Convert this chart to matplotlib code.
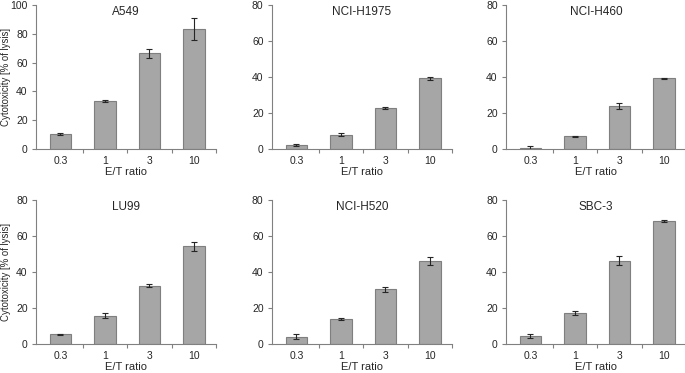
import matplotlib.pyplot as plt
import numpy as np

plt.rcParams['font.family'] = ['Liberation Sans', 'DejaVu Sans']

ratios = ['0.3', '1', '3', '10']
cell_lines = ['A549', 'NCI-H1975', 'NCI-H460', 'LU99', 'NCI-H520', 'SBC-3']

a549 = [10.2, 33.3, 66.5, 83.3]
a549_err = [0.7, 0.5, 3.3, 7.6]
h1975 = [2.2, 8.0, 22.8, 39.3]
h1975_err = [0.6, 1.0, 0.5, 0.9]
h460 = [0.5, 7.0, 23.8, 39.4]
h460_err = [0.9, 0.5, 1.8, 0.3]
lu99 = [5.4, 15.8, 32.5, 54.2]
lu99_err = [0.4, 1.4, 1.0, 2.3]
h520 = [4.1, 13.7, 30.4, 46.1]
h520_err = [1.4, 0.5, 1.4, 2.0]
sbc3 = [4.6, 17.3, 46.4, 68.3]
sbc3_err = [1.0, 1.0, 2.4, 0.4]

values = [a549, h1975, h460, lu99, h520, sbc3]
errors = [a549_err, h1975_err, h460_err, lu99_err, h520_err, sbc3_err]
ymax = [100, 80, 80, 80, 80, 80]

fig = plt.figure(figsize=(6.85, 3.73), dpi=100)
lefts = [0.0526, 0.397, 0.7387]
bottoms = [0.6005, 0.0777]
w, h = 0.263, 0.386

txt = '#262626'
line = '#808080'

for i in range(6):
    r, c = divmod(i, 3)
    ax = fig.add_axes([lefts[c], bottoms[r], w, h])
    x = np.arange(len(ratios))
    ax.bar(x, values[i], width=0.48, color='#a6a6a6', edgecolor='#7f7f7f', linewidth=0.8)
    ax.errorbar(x, values[i], yerr=errors[i], fmt='none', ecolor='#262626',
                elinewidth=0.8, capsize=2, capthick=0.8)
    ax.set_xlim(-0.55, 3.5)
    ax.set_ylim(0, ymax[i])
    ax.set_yticks(np.arange(0, ymax[i] + 1, 20))
    ax.set_xticks(x)
    ax.set_xticklabels(ratios)
    ax.set_xticks([0.5, 1.5, 2.5, 3.5], minor=True)
    ax.tick_params(axis='x', which='major', length=0, labelsize=7.5, colors=txt, pad=5)
    ax.tick_params(axis='x', which='minor', length=3, color=line, width=0.8, direction='out')
    ax.tick_params(axis='y', length=3, color=line, width=0.8, labelsize=7.5, labelcolor=txt, pad=3)
    for s in ['top', 'right']:
        ax.spines[s].set_visible(False)
    for s in ['left', 'bottom']:
        ax.spines[s].set_color(line)
        ax.spines[s].set_linewidth(0.8)
    ax.text(0.5, 0.99, cell_lines[i], transform=ax.transAxes, ha='center', va='top',
            fontsize=8.5, color=txt)
    ax.set_xlabel('E/T ratio', fontsize=8, color=txt, labelpad=1)
    if c == 0:
        ax.set_ylabel('Cytotoxicity [% of lysis]', fontsize=6.9, color=txt)
        ax.yaxis.set_label_coords(-0.14, 0.5)

fig.savefig('out.png', dpi=100)
